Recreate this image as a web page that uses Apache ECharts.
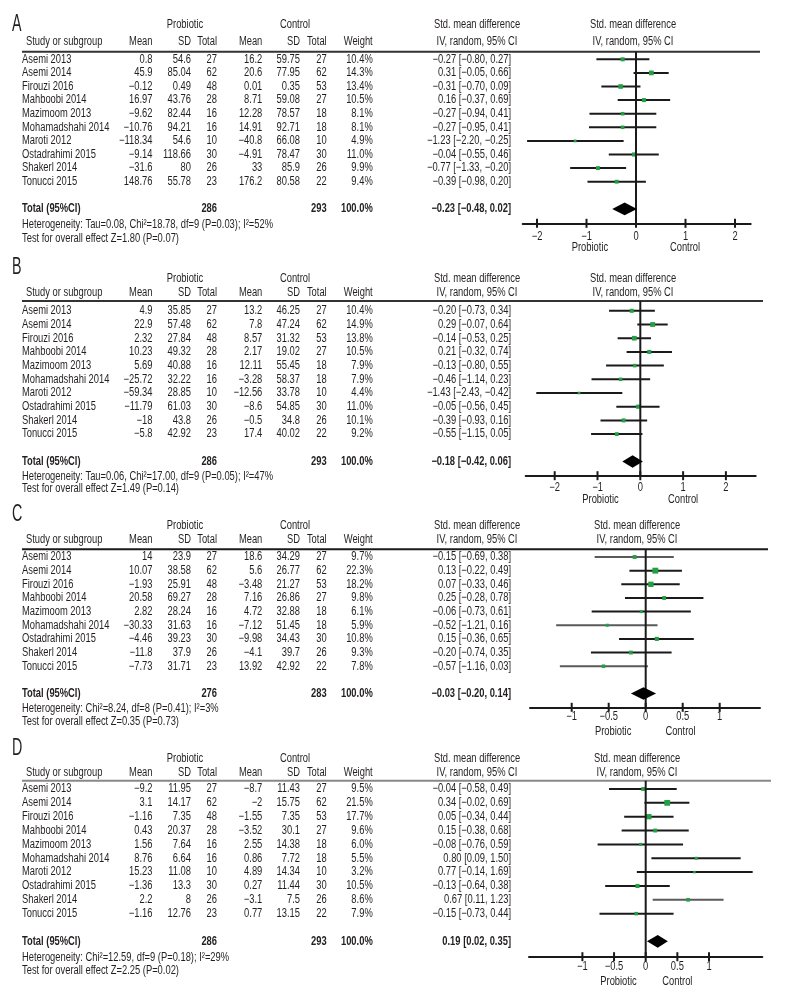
<!DOCTYPE html>
<html><head><meta charset="utf-8">
<script src="https://cdn.jsdelivr.net/npm/echarts@6/dist/echarts.min.js"></script>
<style>html,body{margin:0;padding:0;background:#fff}#c{width:792px;height:1008px}</style>
</head><body><div id="c"></div>
<script>
// ---------------- DATA ----------------
const studiesA = ['Asemi 2013','Asemi 2014','Firouzi 2016','Mahboobi 2014','Mazimoom 2013','Mohamadshahi 2014','Maroti 2012','Ostadrahimi 2015','Shakerl 2014','Tonucci 2015'];
const pMeanA = [0.8, 45.9, -0.12, 16.97, -9.62, -10.76, -118.34, -9.14, -31.6, 148.76];
const pSdA   = [54.6, 85.04, 0.49, 43.76, 82.44, 94.21, 54.6, 118.66, 80, 55.78];
const pNA    = [27, 62, 48, 28, 16, 16, 10, 30, 26, 23];
const cMeanA = [16.2, 20.6, 0.01, 8.71, 12.28, 14.91, -40.8, -4.91, 33, 176.2];
const cSdA   = [59.75, 77.95, 0.35, 59.08, 78.57, 92.71, 66.08, 78.47, 85.9, 80.58];
const cNA    = [27, 62, 53, 27, 18, 18, 10, 30, 26, 22];
const weightA = [10.4, 14.3, 13.4, 10.5, 8.1, 8.1, 4.9, 11.0, 9.9, 9.4];
const smdA   = [-0.27, 0.31, -0.31, 0.16, -0.27, -0.27, -1.23, -0.04, -0.77, -0.39];
const loA    = [-0.80, -0.05, -0.70, -0.37, -0.94, -0.95, -2.20, -0.55, -1.33, -0.98];
const hiA    = [0.27, 0.66, 0.09, 0.69, 0.41, 0.41, -0.25, 0.46, -0.20, 0.20];
const totalSmdA = [-0.23, -0.48, 0.02];
const totalNA = [286, 293];
const hetA = 'Heterogeneity: Tau=0.08, Chi²=18.78, df=9 (P=0.03); I²=52%';
const testA = 'Test for overall effect Z=1.80 (P=0.07)';

const studiesB = ['Asemi 2013','Asemi 2014','Firouzi 2016','Mahboobi 2014','Mazimoom 2013','Mohamadshahi 2014','Maroti 2012','Ostadrahimi 2015','Shakerl 2014','Tonucci 2015'];
const pMeanB = [4.9, 22.9, 2.32, 10.23, 5.69, -25.72, -59.34, -11.79, -18, -5.8];
const pSdB   = [35.85, 57.48, 27.84, 49.32, 40.88, 32.22, 28.85, 61.03, 43.8, 42.92];
const pNB    = [27, 62, 48, 28, 16, 16, 10, 30, 26, 23];
const cMeanB = [13.2, 7.8, 8.57, 2.17, 12.11, -3.28, -12.56, -8.6, -0.5, 17.4];
const cSdB   = [46.25, 47.24, 31.32, 19.02, 55.45, 58.37, 33.78, 54.85, 34.8, 40.02];
const cNB    = [27, 62, 53, 27, 18, 18, 10, 30, 26, 22];
const weightB = [10.4, 14.9, 13.8, 10.5, 7.9, 7.9, 4.4, 11.0, 10.1, 9.2];
const smdB   = [-0.20, 0.29, -0.14, 0.21, -0.13, -0.46, -1.43, -0.05, -0.39, -0.55];
const loB    = [-0.73, -0.07, -0.53, -0.32, -0.80, -1.14, -2.43, -0.56, -0.93, -1.15];
const hiB    = [0.34, 0.64, 0.25, 0.74, 0.55, 0.23, -0.42, 0.45, 0.16, 0.05];
const totalSmdB = [-0.18, -0.42, 0.06];
const totalNB = [286, 293];
const hetB = 'Heterogeneity: Tau=0.06, Chi²=17.00, df=9 (P=0.05); I²=47%';
const testB = 'Test for overall effect Z=1.49 (P=0.14)';

const studiesC = ['Asemi 2013','Asemi 2014','Firouzi 2016','Mahboobi 2014','Mazimoom 2013','Mohamadshahi 2014','Ostadrahimi 2015','Shakerl 2014','Tonucci 2015'];
const pMeanC = [14, 10.07, -1.93, 20.58, 2.82, -30.33, -4.46, -11.8, -7.73];
const pSdC   = [23.9, 38.58, 25.91, 69.27, 28.24, 31.63, 39.23, 37.9, 31.71];
const pNC    = [27, 62, 48, 28, 16, 16, 30, 26, 23];
const cMeanC = [18.6, 5.6, -3.48, 7.16, 4.72, -7.12, -9.98, -4.1, 13.92];
const cSdC   = [34.29, 26.77, 21.27, 26.86, 32.88, 51.45, 34.43, 39.7, 42.92];
const cNC    = [27, 62, 53, 27, 18, 18, 30, 26, 22];
const weightC = [9.7, 22.3, 18.2, 9.8, 6.1, 5.9, 10.8, 9.3, 7.8];
const smdC   = [-0.15, 0.13, 0.07, 0.25, -0.06, -0.52, 0.15, -0.20, -0.57];
const loC    = [-0.69, -0.22, -0.33, -0.28, -0.73, -1.21, -0.36, -0.74, -1.16];
const hiC    = [0.38, 0.49, 0.46, 0.78, 0.61, 0.16, 0.65, 0.35, 0.03];
const totalSmdC = [-0.03, -0.20, 0.14];
const totalNC = [276, 283];
const hetC = 'Heterogeneity: Chi²=8.24, df=8 (P=0.41); I²=3%';
const testC = 'Test for overall effect Z=0.35 (P=0.73)';

const studiesD = ['Asemi 2013','Asemi 2014','Firouzi 2016','Mahboobi 2014','Mazimoom 2013','Mohamadshahi 2014','Maroti 2012','Ostadrahimi 2015','Shakerl 2014','Tonucci 2015'];
const pMeanD = [-9.2, 3.1, -1.16, 0.43, 1.56, 8.76, 15.23, -1.36, 2.2, -1.16];
const pSdD   = [11.95, 14.17, 7.35, 20.37, 7.64, 6.64, 11.08, 13.3, 8, 12.76];
const pND    = [27, 62, 48, 28, 16, 16, 10, 30, 26, 23];
const cMeanD = [-8.7, -2, -1.55, -3.52, 2.55, 0.86, 4.89, 0.27, -3.1, 0.77];
const cSdD   = [11.43, 15.75, 7.35, 30.1, 14.38, 7.72, 14.34, 11.44, 7.5, 13.15];
const cND    = [27, 62, 53, 27, 18, 18, 10, 30, 26, 22];
const weightD = [9.5, 21.5, 17.7, 9.6, 6.0, 5.5, 3.2, 10.5, 8.6, 7.9];
const smdD   = [-0.04, 0.34, 0.05, 0.15, -0.08, 0.80, 0.77, -0.13, 0.67, -0.15];
const loD    = [-0.58, -0.02, -0.34, -0.38, -0.76, 0.09, -0.14, -0.64, 0.11, -0.73];
const hiD    = [0.49, 0.69, 0.44, 0.68, 0.59, 1.50, 1.69, 0.38, 1.23, 0.44];
const totalSmdD = [0.19, 0.02, 0.35];
const totalND = [286, 293];
const hetD = 'Heterogeneity: Chi²=12.59, df=9 (P=0.18); I²=29%';
const testD = 'Test for overall effect Z=2.25 (P=0.02)';

const ticksAB = [-2, -1, 0, 1, 2];
const ticksCD = [-1, -0.5, 0, 0.5, 1];

// ---------------- LAYOUT / STYLE ----------------
const FONT = '"Liberation Sans", Arial, sans-serif';
const SX = 0.78, FS = 12, INK = '#231f20', GREEN = '#22a043';
const COLS = {name:22, head:26, pMean:152.5, pSd:191, pN:217, cMean:262.3, cSd:300, cN:326.7, weight:372.7, ci:511, probHead:185, ctrlHead:295, ciHead:477};

const GEOM = {
 A:{letterY:25, head1Y:25, head2Y:42, lineY:51.7, lineRight:760, lineColor:'#333', row0:59.3, sp:13.6, hetDy:15.7, testDy:29.7, axisY:223.3, axisL:522.7, axisR:750.7, zeroX:636, unit:49.5, tickDy:13.4, sideDy:24.7, sideAt:[-0.93,0.99], rightHeadX:633, gray:[]},
 B:{letterY:267.5, head1Y:279, head2Y:292.5, lineY:301, lineRight:763, lineColor:'#333', row0:310.8, sp:13.7, hetDy:14.7, testDy:27, axisY:475.7, axisL:525.7, axisR:755.7, zeroX:640.3, unit:42.8, tickDy:11.6, sideDy:24.3, sideAt:[-0.93,1.0], rightHeadX:633, gray:[]},
 C:{letterY:515, head1Y:526, head2Y:540, lineY:549.3, lineRight:768, lineColor:'#1a1a1a', row0:557, sp:13.65, hetDy:15, testDy:28.5, axisY:707.3, axisL:530, axisR:760, zeroX:645.7, unit:74, tickDy:9, sideDy:24.4, sideAt:[-0.44,0.47], rightHeadX:637, gray:[0,5,8]},
 D:{letterY:749, head1Y:759, head2Y:772.5, lineY:780.7, lineRight:771, lineColor:'#888', row0:789, sp:13.85, hetDy:16, testDy:29, axisY:956.7, axisL:529, axisR:762.3, zeroX:645.7, unit:63.3, tickDy:10, sideDy:25, sideAt:[-0.43,0.5], rightHeadX:637, gray:[8]}
};

const PANELS = {
 A:{studies:studiesA,pMean:pMeanA,pSd:pSdA,pN:pNA,cMean:cMeanA,cSd:cSdA,cN:cNA,weight:weightA,smd:smdA,lo:loA,hi:hiA,total:totalSmdA,totalN:totalNA,het:hetA,test:testA,ticks:ticksAB},
 B:{studies:studiesB,pMean:pMeanB,pSd:pSdB,pN:pNB,cMean:cMeanB,cSd:cSdB,cN:cNB,weight:weightB,smd:smdB,lo:loB,hi:hiB,total:totalSmdB,totalN:totalNB,het:hetB,test:testB,ticks:ticksAB},
 C:{studies:studiesC,pMean:pMeanC,pSd:pSdC,pN:pNC,cMean:cMeanC,cSd:cSdC,cN:cNC,weight:weightC,smd:smdC,lo:loC,hi:hiC,total:totalSmdC,totalN:totalNC,het:hetC,test:testC,ticks:ticksCD},
 D:{studies:studiesD,pMean:pMeanD,pSd:pSdD,pN:pND,cMean:cMeanD,cSd:cSdD,cN:cND,weight:weightD,smd:smdD,lo:loD,hi:hiD,total:totalSmdD,totalN:totalND,het:hetD,test:testD,ticks:ticksCD}
};

const mn = s => String(s).replace('-', '\u2212');
const f2 = v => mn(v.toFixed(2));
const ciStr = (e, l, h) => `${f2(e)} [${f2(l)}, ${f2(h)}]`;

function txt(x, y, s, align, opt) {
  opt = opt || {};
  return {type:'text', x:x, y:y, scaleX: opt.sx || SX,
    style:{text:s, x:0, y:0, align:align, verticalAlign:'middle',
      font:(opt.bold?'bold ':'') + (opt.size||FS) + 'px ' + FONT, fill: opt.fill || INK}};
}

const option = {animation:false, grid:[], xAxis:[], yAxis:[], series:[]};

['A','B','C','D'].forEach((k, gi) => {
  const P = PANELS[k], G = GEOM[k];
  const n = P.studies.length, totalRow = n + 1;
  const yMin = (G.lineY - G.row0) / G.sp, yMax = (G.axisY - G.row0) / G.sp;
  option.grid.push({left:G.axisL, top:G.lineY, width:G.axisR - G.axisL, height:G.axisY - G.lineY});
  option.xAxis.push({gridIndex:gi, type:'value', min:(G.axisL - G.zeroX)/G.unit, max:(G.axisR - G.zeroX)/G.unit,
    axisLine:{show:true, onZero:false, lineStyle:{color:'#1a1a1a', width:2}}, axisTick:{show:false}, axisLabel:{show:false}, splitLine:{show:false}});
  option.yAxis.push({gridIndex:gi, type:'value', inverse:true, min:yMin, max:yMax, show:false});

  // study rows
  option.series.push({type:'custom', xAxisIndex:gi, yAxisIndex:gi, clip:false, silent:true,
    data:P.smd.map((v,i)=>[v,i]),
    renderItem:(params, api) => {
      const i = params.dataIndex;
      const y = api.coord([0, i])[1];
      const xl = api.coord([P.lo[i], i])[0], xh = api.coord([P.hi[i], i])[0], xe = api.coord([P.smd[i], i])[0];
      const s = Math.max(2.5, 1.25 * Math.sqrt(P.weight[i]));
      return {type:'group', children:[
        txt(COLS.name, y, P.studies[i], 'left'),
        txt(COLS.pMean, y, mn(P.pMean[i]), 'right'),
        txt(COLS.pSd, y, mn(P.pSd[i]), 'right'),
        txt(COLS.pN, y, String(P.pN[i]), 'right'),
        txt(COLS.cMean, y, mn(P.cMean[i]), 'right'),
        txt(COLS.cSd, y, mn(P.cSd[i]), 'right'),
        txt(COLS.cN, y, String(P.cN[i]), 'right'),
        txt(COLS.weight, y, P.weight[i].toFixed(1) + '%', 'right'),
        txt(COLS.ci, y, ciStr(P.smd[i], P.lo[i], P.hi[i]), 'right'),
        {type:'line', shape:{x1:xl, y1:y, x2:xh, y2:y}, style:{stroke: G.gray.includes(i) ? '#5a5a5a' : '#1a1a1a', lineWidth:2}},
        {type:'rect', shape:{x:xe - s/2, y:y - s/2, width:s, height:s}, style:{fill:GREEN}}
      ]};
    }});

  // static parts: headers, lines, total, diamond, ticks
  option.series.push({type:'custom', xAxisIndex:gi, yAxisIndex:gi, clip:false, silent:true,
    data:[[0, 0]],
    renderItem:(params, api) => {
      const top = api.coord([0, yMin]), bot = api.coord([0, yMax]);
      const yT = api.coord([0, totalRow])[1];
      const xl = api.coord([P.total[1], totalRow])[0], xh = api.coord([P.total[2], totalRow])[0], xe = api.coord([P.total[0], totalRow])[0];
      const ch = [
        txt(12, G.letterY, k, 'left', {size:23, sx:0.62}),
        txt(COLS.probHead, G.head1Y, 'Probiotic', 'center'),
        txt(COLS.ctrlHead, G.head1Y, 'Control', 'center'),
        txt(COLS.ciHead, G.head1Y, 'Std. mean difference', 'center'),
        txt(G.rightHeadX, G.head1Y, 'Std. mean difference', 'center'),
        txt(COLS.head, G.head2Y, 'Study or subgroup', 'left'),
        txt(COLS.pMean, G.head2Y, 'Mean', 'right'),
        txt(COLS.pSd, G.head2Y, 'SD', 'right'),
        txt(COLS.pN, G.head2Y, 'Total', 'right'),
        txt(COLS.cMean, G.head2Y, 'Mean', 'right'),
        txt(COLS.cSd, G.head2Y, 'SD', 'right'),
        txt(COLS.cN, G.head2Y, 'Total', 'right'),
        txt(COLS.weight, G.head2Y, 'Weight', 'right'),
        txt(COLS.ciHead, G.head2Y, 'IV, random, 95% CI', 'center'),
        txt(G.rightHeadX, G.head2Y, 'IV, random, 95% CI', 'center'),
        {type:'line', shape:{x1:22, y1:top[1], x2:G.lineRight, y2:top[1]}, style:{stroke:G.lineColor, lineWidth:2}},
        {type:'line', shape:{x1:top[0], y1:top[1], x2:bot[0], y2:bot[1]}, style:{stroke:'#1a1a1a', lineWidth:2}},
        txt(COLS.name, yT, 'Total (95%CI)', 'left', {bold:true}),
        txt(COLS.pN, yT, String(P.totalN[0]), 'right', {bold:true}),
        txt(COLS.cN, yT, String(P.totalN[1]), 'right', {bold:true}),
        txt(COLS.weight, yT, '100.0%', 'right', {bold:true}),
        txt(COLS.ci, yT, ciStr(P.total[0], P.total[1], P.total[2]), 'right', {bold:true}),
        {type:'polygon', shape:{points:[[xl, yT],[xe, yT-6.3],[xh, yT],[xe, yT+6.3]]}, style:{fill:'#000'}},
        txt(COLS.name, yT + G.hetDy, P.het, 'left'),
        txt(COLS.name, yT + G.testDy, P.test, 'left')
      ];
      P.ticks.forEach(t => {
        const x = api.coord([t, yMax])[0];
        ch.push({type:'line', shape:{x1:x, y1:bot[1]-4.5, x2:x, y2:bot[1]+4.5}, style:{stroke:'#1a1a1a', lineWidth:2}});
        ch.push(txt(x, bot[1] + G.tickDy, mn(t), 'center'));
      });
      ch.push(txt(api.coord([G.sideAt[0], yMax])[0], bot[1] + G.sideDy, 'Probiotic', 'center'));
      ch.push(txt(api.coord([G.sideAt[1], yMax])[0], bot[1] + G.sideDy, 'Control', 'center'));
      return {type:'group', children:ch};
    }});
});

const chart = echarts.init(document.getElementById('c'), null, {renderer:'canvas'});
chart.setOption(option);
</script></body></html>
